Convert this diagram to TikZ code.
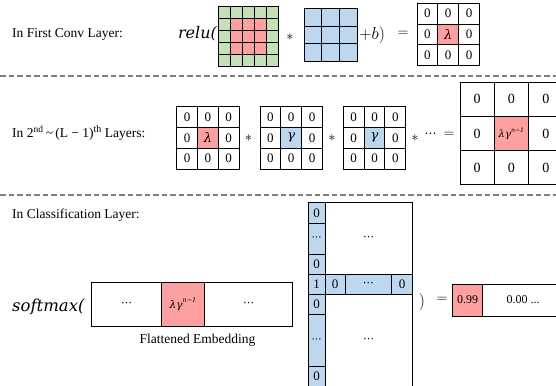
\documentclass[tikz,border=0pt]{standalone}
\usepackage{fontspec}
\setmainfont{Liberation Serif}
\newfontfamily\opfont{DejaVu Serif}
\newfontfamily\symfont{DejaVu Sans}

\definecolor{gridgreen}{HTML}{C5E0B4}
\definecolor{gridpink}{HTML}{FFA0A0}
\definecolor{gridblue}{HTML}{BDD7EE}
\definecolor{sepgray}{HTML}{7F7F7F}

% symbols set in a heavier serif
\newcommand{\gk}[1]{{\opfont\itshape #1}}
\newcommand{\dotsym}{{\symfont ⋯}}
\newcommand{\lamgam}[1]{{\opfont\itshape\fontsize{#1}{#1}\selectfont λγ\raisebox{0.5em}{\fontsize{0.62\dimexpr#1pt}{1pt}\selectfont n−1}}}

\tikzset{
  cellbox/.style={draw=black, line width=0.9pt, inner sep=0pt, outer sep=0pt},
  rowtitle/.style={anchor=west, inner sep=0pt, font=\fontsize{13.5}{14}\selectfont},
  optext/.style={inner sep=0pt, font=\opfont\itshape\fontsize{16}{16}\selectfont},
  symtext/.style={inner sep=0pt, font=\fontsize{14}{14}\selectfont},
  separator/.style={draw=sepgray, line width=1.3pt, dash pattern=on 5.5pt off 3pt},
}

% 3x3 grid of zeros with a special centre cell
% #1 name, #2 left, #3 top, #4 cell size, #5 centre fill, #6 centre text, #7 font size
\newcommand{\zerogrid}[7]{%
  \foreach \r in {1,2,3}{%
    \foreach \c in {1,2,3}{%
      \ifnum\r\c=22
        \node[cellbox, minimum size=#4pt, fill=#5, font=\fontsize{#7}{#7}\selectfont]
          (#1-\r-\c) at ({#2+(\c-0.5)*#4},{#3+(\r-0.5)*#4}) {#6};
      \else
        \node[cellbox, minimum size=#4pt, font=\fontsize{#7}{#7}\selectfont]
          (#1-\r-\c) at ({#2+(\c-0.5)*#4},{#3+(\r-0.5)*#4}) {0};
      \fi
    }%
  }%
}

\begin{document}
\begin{tikzpicture}[x=1pt, y=-1pt]
  \clip (0,0) rectangle (556,385);
  \fill[white] (0,0) rectangle (556,385);

  % ---------------- first convolution layer ----------------
  \node[rowtitle] (title1) at (12,34) {In First Conv Layer:};
  \node[optext, anchor=base east] (relu) at (217,38.5) {relu(};

  % input patch: green border, pink 3x3 core
  \foreach \r in {1,...,5}{%
    \foreach \c in {1,...,5}{%
      \def\cf{gridgreen}%
      \ifnum\r>1 \ifnum\r<5 \ifnum\c>1 \ifnum\c<5 \def\cf{gridpink}\fi\fi\fi\fi
      \node[cellbox, minimum size=12pt, fill=\cf] (inp-\r-\c)
        at ({218.3+(\c-0.5)*12},{6.7+(\r-0.5)*12}) {};
    }%
  }
  \node[symtext] (conv1) at (290,37) {$*$};

  % kernel
  \foreach \r in {1,2,3}{%
    \foreach \c in {1,2,3}{%
      \node[cellbox, minimum size=17.8pt, fill=gridblue] (ker-\r-\c)
        at ({304+(\c-0.5)*17.8},{8.3+(\r-0.5)*17.8}) {};
    }%
  }
  \node[inner sep=0pt, font=\fontsize{17}{17}\selectfont, anchor=base west] (bias) at (359,39.5) {$+b)$};
  \node[symtext] (eq1) at (403,34) {$=$};

  \zerogrid{res1}{417}{3.3}{20.8}{gridpink}{\gk{λ}}{13}

  \draw[separator] (0,76) -- (556,76);

  % ---------------- hidden layers ----------------
  \node[rowtitle] (title2) at (12,133)
    {In 2\textsuperscript{nd}\,\textasciitilde\,(L − 1)\raisebox{0.42em}{\fontsize{10}{10}\selectfont th} Layers:};

  \zerogrid{hid1}{176.7}{106.7}{20.8}{gridpink}{\gk{λ}}{13}
  \node[symtext] (conv2) at (248.5,138.5) {$*$};
  \zerogrid{hid2}{260}{106.7}{20.8}{gridblue}{\gk{γ}}{13}
  \node[symtext] (conv3) at (332,138.5) {$*$};
  \zerogrid{hid3}{343.3}{106.7}{20.8}{gridblue}{\gk{γ}}{13}
  \node[symtext] (conv4) at (415,138) {$*$};
  \node[symtext, font=\fontsize{12}{12}\selectfont] (more) at (430.5,135.5) {\dotsym};
  \node[symtext] (eq2) at (449,135) {$=$};

  \zerogrid{big}{460}{82}{34.3}{gridpink}{\lamgam{10}}{14}

  \draw[separator] (0,195) -- (556,195);

  % ---------------- classification layer ----------------
  \node[rowtitle] (title3) at (12,215) {In Classification Layer:};
  \node[optext, anchor=base west, font=\opfont\itshape\fontsize{16.5}{16.5}\selectfont] (softmax) at (12,311) {softmax(};

  % flattened embedding
  \node[cellbox, anchor=north west, minimum width=70pt, minimum height=43.7pt, font=\fontsize{11}{11}\selectfont]
    (emb-a) at (91.7,282.3) {\dotsym};
  \node[cellbox, anchor=north west, minimum width=42.6pt, minimum height=43.7pt, fill=gridpink]
    (emb-b) at (161.7,282.3) {\lamgam{10.5}};
  \node[cellbox, anchor=north west, minimum width=88.4pt, minimum height=43.7pt, font=\fontsize{11}{11}\selectfont]
    (emb-c) at (204.3,282.3) {\dotsym};
  \node[inner sep=0pt, font=\fontsize{13.5}{14}\selectfont] (embcap) at (197.5,340) {Flattened Embedding};

  % weight matrix: highlighted column and row
  \begin{scope}[every node/.style={cellbox, anchor=north west, font=\fontsize{13}{13}\selectfont}]
    \node[minimum width=87.3pt, minimum height=71.7pt, font=\fontsize{11}{11}\selectfont] (w-up) at (325,202.3) {\dotsym};
    \node[minimum width=87.3pt, minimum height=92.7pt, font=\fontsize{11}{11}\selectfont] (w-low) at (325,294) {\dotsym};
    \node[minimum width=16.7pt, minimum height=21pt, fill=gridblue] (col-1) at (308.3,202.3) {0};
    \node[minimum width=16.7pt, minimum height=31pt, fill=gridblue, font=\fontsize{10}{10}\selectfont] (col-2) at (308.3,223.3) {\dotsym};
    \node[minimum width=16.7pt, minimum height=19.7pt, fill=gridblue] (col-3) at (308.3,254.3) {0};
    \node[minimum width=16.7pt, minimum height=20pt, fill=gridblue] (col-4) at (308.3,274) {1};
    \node[minimum width=16.7pt, minimum height=20pt, fill=gridblue] (col-5) at (308.3,294) {0};
    \node[minimum width=16.7pt, minimum height=52.7pt, fill=gridblue, font=\fontsize{10}{10}\selectfont] (col-6) at (308.3,314) {\dotsym};
    \node[minimum width=16.7pt, minimum height=20pt, fill=gridblue] (col-7) at (308.3,366.7) {0};
    \node[minimum width=20pt, minimum height=20pt, fill=gridblue] (row-1) at (325,274) {0};
    \node[minimum width=46.7pt, minimum height=20pt, fill=gridblue, font=\fontsize{11}{11}\selectfont] (row-2) at (345,274) {\dotsym};
    \node[minimum width=20.6pt, minimum height=20pt, fill=gridblue] (row-3) at (391.7,274) {0};
  \end{scope}

  \node[inner sep=0pt, font=\fontsize{16}{16}\selectfont] (close) at (422,302) {$)$};
  \node[symtext] (eq3) at (442,300) {$=$};

  % softmax output
  \node[cellbox, anchor=north west, minimum width=30.4pt, minimum height=32pt, fill=gridpink,
    font=\fontsize{12}{12}\selectfont] (out-a) at (452.3,284) {0.99};
  \node[cellbox, anchor=north west, minimum width=80.6pt, minimum height=32pt,
    font=\fontsize{12}{12}\selectfont] (out-b) at (482.7,284) {0.00 ...};
\end{tikzpicture}
\end{document}
